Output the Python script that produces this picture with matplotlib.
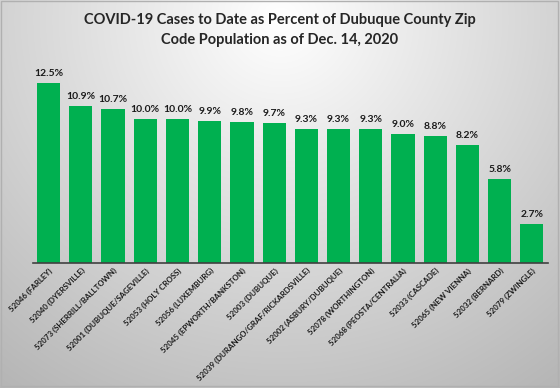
import matplotlib
matplotlib.use("Agg")
import matplotlib.pyplot as plt
import numpy as np

categories = ["52046 (FARLEY)", "52040 (DYERSVILLE)", "52073 (SHERRILL/BALLTOWN)",
              "52001 (DUBUQUE/SAGEVILLE)", "52053 (HOLY CROSS)", "52056 (LUXEMBURG)",
              "52045 (EPWORTH/BANKSTON)", "52003 (DUBUQUE)",
              "52039 (DURANGO/GRAF/RICKARDSVILLE)", "52002 (ASBURY/DUBUQUE)",
              "52078 (WORTHINGTON)", "52068 (PEOSTA/CENTRALIA)", "52033 (CASCADE)",
              "52065 (NEW VIENNA)", "52032 (BERNARD)", "52079 (ZWINGLE)"]
values = [12.5, 10.9, 10.7, 10.0, 10.0, 9.9, 9.8, 9.7, 9.3, 9.3, 9.3, 9.0, 8.8, 8.2, 5.8, 2.7]
title = "COVID-19 Cases to Date as Percent of Dubuque County Zip\nCode Population as of Dec. 14, 2020"

plt.rcParams['font.family'] = ['Lato', 'DejaVu Sans']

W, H = 560, 388
fig = plt.figure(figsize=(W / 100, H / 100), dpi=100)

# background radial gradient
bg = fig.add_axes([0, 0, 1, 1])
yy, xx = np.mgrid[0:H, 0:W]
d = np.sqrt(((xx - W * 0.5) / (W * 0.75)) ** 2 + ((yy - H * 0.05) / (H * 1.05)) ** 2)
val = np.clip(1.0 - 0.26 * d, 0, 1)
img = np.dstack([val, val, val])
bg.imshow(img, extent=[0, W, H, 0], aspect='auto')
bg.set_xlim(0, W)
bg.set_ylim(H, 0)
bg.axis('off')
bg.add_patch(plt.Rectangle((1, 1), W - 3, H - 3, fill=False, edgecolor='#b0b0b0', lw=1))

left, right = 32.5 / W, 548 / W
bottom = 1 - 262.7 / H
ymax = 14.0
px_per = 179.4 / 12.5
top_px = 262.7 - ymax * px_per
ax = fig.add_axes([left, bottom, right - left, (262.7 - top_px) / H])
ax.patch.set_alpha(0)

x = np.arange(len(values))
ax.bar(x, values, width=0.72, color='#00B050')
for xi, v in zip(x, values):
    ax.text(xi, v + 0.35, f"{v:.1f}%", ha='center', va='bottom', fontsize=7.5,
            fontweight='bold', color='#1a1a1a')

ax.set_xlim(-0.5, 15.5)
ax.set_ylim(0, ymax)
ax.set_yticks([])
ax.set_xticks(x)
ax.set_xticklabels(categories, rotation=45, ha='right', rotation_mode='anchor',
                   fontsize=5.7, fontweight='bold', color='#1a1a1a')
ax.tick_params(axis='x', length=0, pad=3)
for s in ['top', 'right', 'left']:
    ax.spines[s].set_visible(False)
ax.spines['bottom'].set_color('#404040')
ax.spines['bottom'].set_linewidth(1.2)

fig.text(0.5, 1 - 30 / H, title, ha='center', va='center', fontsize=10.5,
         fontweight='bold', color='#262626', linespacing=1.5)

fig.savefig("out.png", dpi=100)
